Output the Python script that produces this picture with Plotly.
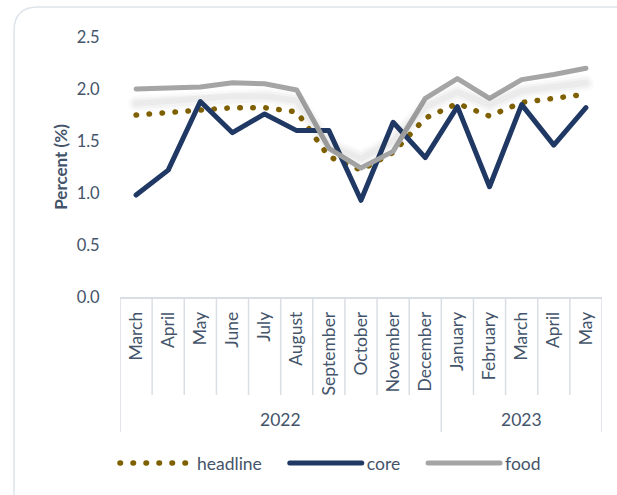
import plotly.graph_objects as go

months = ["March", "April", "May", "June", "July", "August", "September",
          "October", "November", "December", "January", "February", "March", "April", "May"]
years = ["2022"] * 10 + ["2023"] * 5
year_labels = ["2022", "2023"]

headline = [1.75, 1.77, 1.79, 1.82, 1.82, 1.78, 1.35, 1.22, 1.39, 1.72, 1.86, 1.74, 1.87, 1.91, 1.95]
core = [0.98, 1.22, 1.88, 1.58, 1.76, 1.60, 1.60, 0.93, 1.68, 1.34, 1.83, 1.06, 1.85, 1.46, 1.82]
food = [2.00, 2.01, 2.02, 2.06, 2.05, 1.99, 1.43, 1.24, 1.40, 1.91, 2.10, 1.91, 2.09, 2.14, 2.20]

yticks = [0.0, 0.5, 1.0, 1.5, 2.0, 2.5]

cats = [f"{m} {y}" for m, y in zip(months, years)]

TEXT = "#44546A"
SEP = "#D9DEE4"
FONT = "Lato, 'Open Sans', sans-serif"
GAP = "\u00a0" * 4

W, H = 617, 495
L, R, T, B = 120, 15, 37, 198
PW, PH = W - L - R, H - T - B


def px(x):
    return (x - L) / PW


def py(y):
    return (H - B - y) / PH


fig = go.Figure()

# soft shadow under headline (offset axis)
for w, a in [(16, 0.025), (11, 0.035), (6, 0.045)]:
    fig.add_trace(go.Scatter(x=cats, y=headline, mode="lines", yaxis="y2",
                             line=dict(color=f"rgba(60,60,60,{a})", width=w),
                             showlegend=False, hoverinfo="skip"))

fig.add_trace(go.Scatter(x=cats, y=headline, mode="lines", name="headline" + GAP,
                         line=dict(color="#7F6000", width=5.5, dash="0.5px,12.5px")))
fig.add_trace(go.Scatter(x=cats, y=core, mode="lines", name="core" + GAP,
                         line=dict(color="#1F3864", width=5)))
fig.add_trace(go.Scatter(x=cats, y=food, mode="lines", name="food",
                         line=dict(color="#A5A5A5", width=5)))

shapes = []
n = len(cats)
for k in range(n + 1):
    is_year = k in (0, 10, n)
    shapes.append(dict(type="line", xref="x", yref="paper",
                       x0=k - 0.5, x1=k - 0.5, y0=0, y1=py(432 if is_year else 395),
                       line=dict(color=SEP, width=1.5)))

# rounded frame
x0, x1, y0, y1, r = 14, 640, 7, 520, 24
path = (f"M{px(x0)},{py(y0 + r)} "
        f"Q{px(x0)},{py(y0)} {px(x0 + r)},{py(y0)} "
        f"L{px(x1 - r)},{py(y0)} "
        f"Q{px(x1)},{py(y0)} {px(x1)},{py(y0 + r)} "
        f"L{px(x1)},{py(y1 - r)} "
        f"Q{px(x1)},{py(y1)} {px(x1 - r)},{py(y1)} "
        f"L{px(x0 + r)},{py(y1)} "
        f"Q{px(x0)},{py(y1)} {px(x0)},{py(y1 - r)} Z")
shapes.append(dict(type="path", xref="paper", yref="paper", path=path,
                   line=dict(color="#DCE3EA", width=1.5), layer="below"))

annotations = [
    dict(x=4.5, y=py(419), xref="x", yref="paper", yanchor="middle", text=year_labels[0],
         showarrow=False, font=dict(family=FONT, size=17.5, color=TEXT)),
    dict(x=12, y=py(419), xref="x", yref="paper", yanchor="middle", text=year_labels[1],
         showarrow=False, font=dict(family=FONT, size=17.5, color=TEXT)),
]

fig.update_layout(
    width=W, height=H,
    margin=dict(l=L, r=R, t=T, b=B),
    paper_bgcolor="white", plot_bgcolor="white",
    font=dict(family=FONT, color=TEXT, size=16),
    showlegend=True,
    legend=dict(orientation="h", x=px(115), xanchor="left", y=py(463), yanchor="middle",
                font=dict(family=FONT, size=17.5, color=TEXT), itemwidth=72,
                bgcolor="rgba(0,0,0,0)", traceorder="normal"),
    xaxis=dict(type="category", tickvals=cats, ticktext=months, tickangle=-90,
               showgrid=False, zeroline=False, showline=True, linecolor=SEP, linewidth=1.5,
               ticks="outside", ticklen=6, tickcolor="rgba(0,0,0,0)",
               tickfont=dict(family=FONT, size=17.5, color=TEXT),
               range=[-0.5, n - 0.5]),
    yaxis=dict(range=[0, 2.5], tickvals=yticks, ticktext=[f"{v:.1f}" for v in yticks],
               showgrid=False, zeroline=False, showline=False,
               ticks="outside", ticklen=16, tickcolor="rgba(0,0,0,0)",
               tickfont=dict(family=FONT, size=16.5, color=TEXT),
               title=dict(text="<b>Percent (%)</b>", font=dict(family=FONT, size=17, color=TEXT),
                          standoff=4)),
    yaxis2=dict(range=[-0.11, 2.39], overlaying="y", visible=False),
    shapes=shapes,
    annotations=annotations,
)

post = """
document.body.style.margin = '0';
function roundLines() {
  document.querySelectorAll('path.js-line').forEach(function (p) {
    p.style.strokeLinecap = 'round';
    p.style.strokeLinejoin = 'round';
  });
}
roundLines();
setTimeout(roundLines, 0);
setTimeout(roundLines, 300);
var gd = document.getElementById('{plot_id}');
if (gd && gd.on) { gd.on('plotly_afterplot', roundLines); }
"""

fig.write_html("out.html", post_script=post, config={"displayModeBar": False})
